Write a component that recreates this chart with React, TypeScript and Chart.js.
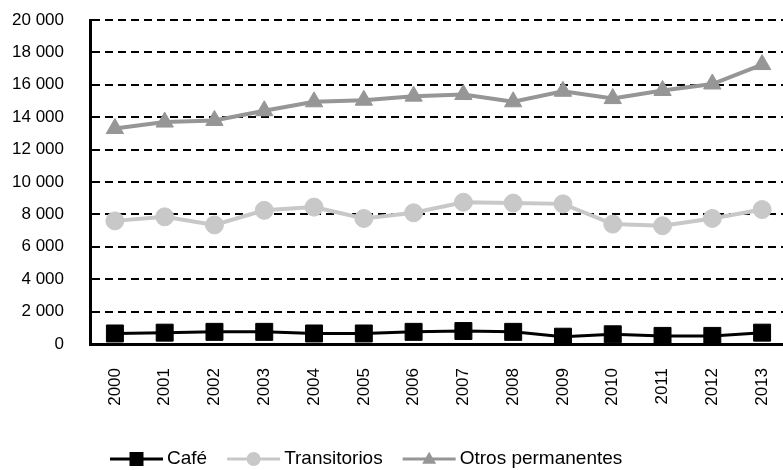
import React, { useEffect, useRef } from 'react';
import { Chart, registerables } from 'chart.js';

Chart.register(...registerables);

const years = ['2000', '2001', '2002', '2003', '2004', '2005', '2006', '2007', '2008', '2009', '2010', '2011', '2012', '2013'];
const cafe = [650, 700, 750, 750, 650, 650, 750, 800, 750, 450, 600, 500, 500, 700];
const transitorios = [7600, 7850, 7350, 8250, 8450, 7750, 8100, 8750, 8700, 8650, 7400, 7300, 7750, 8300];
const otrosPermanentes = [13300, 13700, 13800, 14400, 14950, 15050, 15300, 15400, 14950, 15600, 15150, 15650, 16050, 17250];
const seriesNames = ['Café', 'Transitorios', 'Otros permanentes'];
const yMin = 0;
const yMax = 20000;
const yStep = 2000;

const FONT = '"Liberation Sans", Arial, sans-serif';

function formatThousands(v: number): string {
  return String(v).replace(/\B(?=(\d{3})+(?!\d))/g, ' ');
}

function drawMarker(ctx: CanvasRenderingContext2D, style: string, x: number, y: number, size: number, color: string) {
  ctx.fillStyle = color;
  ctx.beginPath();
  if (style === 'rect') {
    ctx.rect(x - size / 2, y - size / 2, size, size);
  } else if (style === 'circle') {
    ctx.arc(x, y, size / 2, 0, Math.PI * 2);
  } else {
    const h = size * 0.87;
    ctx.moveTo(x, y - h * 0.6);
    ctx.lineTo(x + size / 2, y + h * 0.4);
    ctx.lineTo(x - size / 2, y + h * 0.4);
    ctx.closePath();
  }
  ctx.fill();
}

const bottomLegend = {
  id: 'bottomLegend',
  afterDraw(chart: any) {
    const ctx: CanvasRenderingContext2D = chart.ctx;
    ctx.save();
    ctx.font = '19px ' + FONT;
    ctx.textBaseline = 'middle';
    ctx.textAlign = 'left';
    const y = 459;
    let x = 110;
    const symW = 53;
    chart.data.datasets.forEach((ds: any) => {
      ctx.strokeStyle = ds.borderColor;
      ctx.lineWidth = 3;
      ctx.beginPath();
      ctx.moveTo(x, y);
      ctx.lineTo(x + symW, y);
      ctx.stroke();
      drawMarker(ctx, ds.pointStyle, x + symW / 2, y, 14, ds.pointBackgroundColor);
      ctx.fillStyle = '#000';
      const tx = x + symW + 4;
      ctx.fillText(ds.label, tx, y);
      x = tx + ctx.measureText(ds.label).width + 20;
    });
    ctx.restore();
  },
};

export default function App() {
  const ref = useRef<HTMLCanvasElement>(null);
  useEffect(() => {
    if (!ref.current) return;
    const chart = new Chart(ref.current, {
      type: 'line',
      data: {
        labels: years,
        datasets: [
          {
            label: seriesNames[0],
            data: cafe,
            borderColor: '#000000',
            backgroundColor: '#000000',
            pointBackgroundColor: '#000000',
            pointBorderColor: '#000000',
            borderWidth: 3,
            pointStyle: 'rect',
            pointRadius: 12,
            pointBorderWidth: 1,
            tension: 0,
          },
          {
            label: seriesNames[1],
            data: transitorios,
            borderColor: '#c8c8c8',
            backgroundColor: '#c8c8c8',
            pointBackgroundColor: '#c8c8c8',
            pointBorderColor: '#c8c8c8',
            borderWidth: 4,
            pointStyle: 'circle',
            pointRadius: 9,
            pointBorderWidth: 1,
            tension: 0,
          },
          {
            label: seriesNames[2],
            data: otrosPermanentes,
            borderColor: '#969696',
            backgroundColor: '#969696',
            pointBackgroundColor: '#969696',
            pointBorderColor: '#969696',
            borderWidth: 4,
            pointStyle: 'triangle',
            pointRadius: 10,
            pointBorderWidth: 1,
            tension: 0,
          },
        ],
      },
      options: {
        responsive: false,
        animation: false,
        devicePixelRatio: 1,
        layout: { padding: { top: 20, right: 6, bottom: 50, left: 0 } },
        font: { family: FONT },
        plugins: {
          legend: { display: false },
          tooltip: { enabled: false },
        },
        scales: {
          x: {
            type: 'category',
            offset: true,
            grid: { display: false, drawTicks: false },
            border: { display: true, color: '#000', width: 3 },
            ticks: {
              color: '#000',
              font: { size: 17, family: FONT },
              minRotation: 90,
              maxRotation: 90,
              padding: 24,
              autoSkip: false,
            },
            afterFit(scale: any) {
              scale.height = 76;
              scale.paddingLeft = 0;
              scale.paddingRight = 0;
            },
          },
          y: {
            min: yMin,
            max: yMax,
            grid: { color: '#000', lineWidth: 2, drawTicks: false },
            border: { display: true, color: '#000', width: 3, dash: [8, 5] },
            ticks: {
              stepSize: yStep,
              color: '#000',
              font: { size: 17, family: FONT },
              padding: 26,
              callback: (v: any) => formatThousands(Number(v)),
            },
            afterFit(scale: any) {
              scale.width = 90;
              scale.paddingTop = 0;
              scale.paddingBottom = 0;
            },
          },
        },
      },
      plugins: [bottomLegend],
    } as any);
    return () => chart.destroy();
  }, []);
  return (
    <div style={{ position: 'fixed', left: 0, top: 0, width: 783, height: 470, overflow: 'hidden', background: '#fff' }}>
      <canvas ref={ref} width={800} height={470} style={{ display: 'block', width: 800, height: 470 }} />
    </div>
  );
}
